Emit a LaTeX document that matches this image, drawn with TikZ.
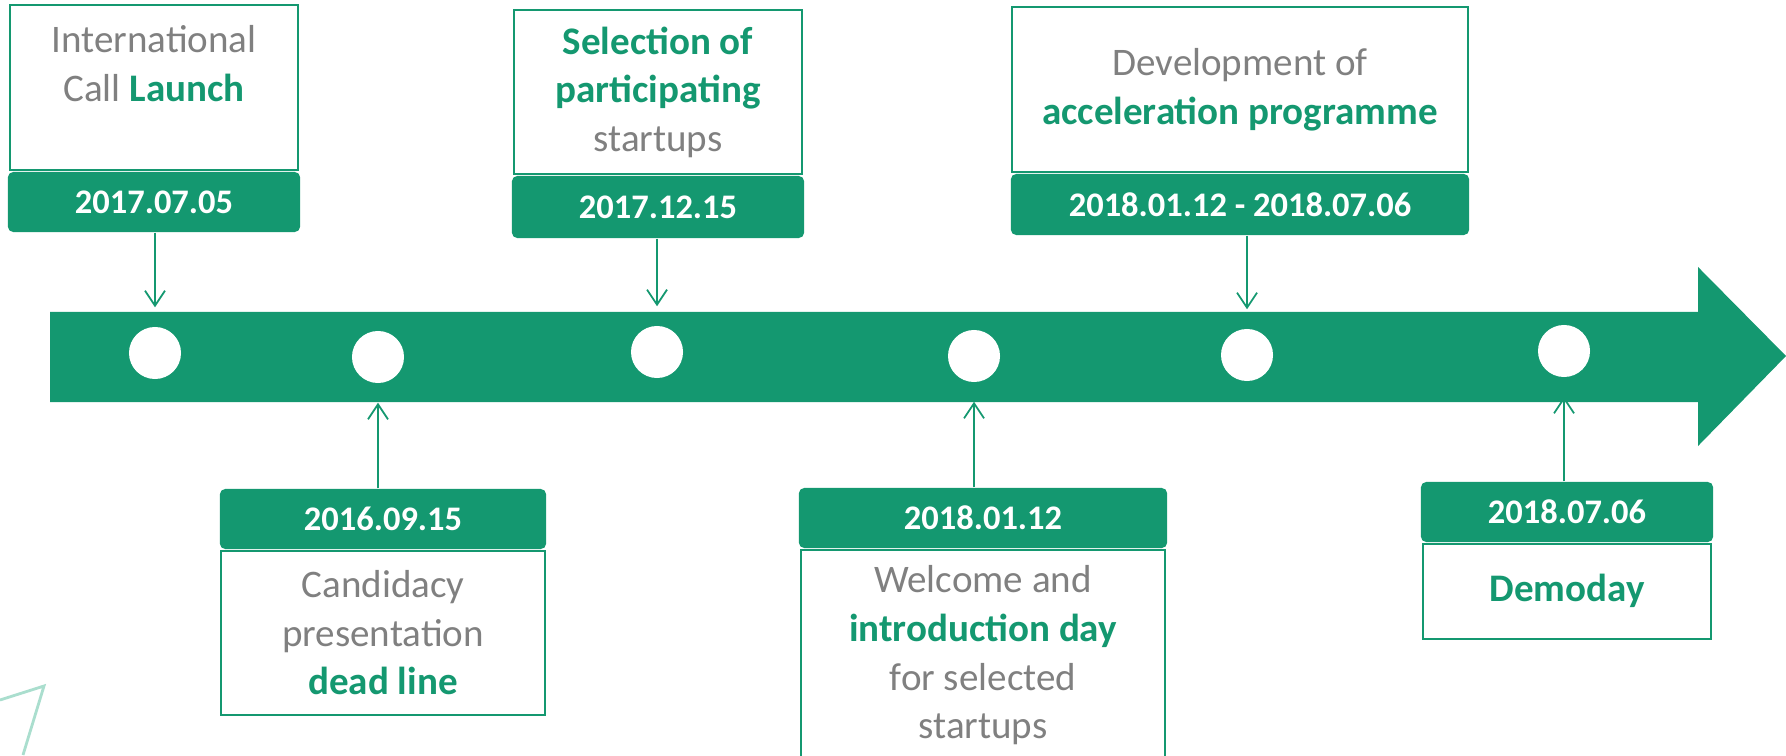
\documentclass[tikz,border=0pt]{standalone}
\usepackage{fontspec}
\setmainfont{Carlito}
\usetikzlibrary{positioning,arrows.meta}
\definecolor{tlgreen}{RGB}{20,152,112}
\definecolor{tlgray}{RGB}{128,128,128}
\definecolor{tldeco}{RGB}{170,222,206}
\newcommand{\hl}[1]{\textbf{\textcolor{tlgreen}{#1}}}
\tikzset{
    datebar/.style = {rectangle, rounded corners=1.5pt, fill=tlgreen, text=white, font=\fontsize{9.8}{12}\selectfont\bfseries, minimum height=0.6cm, inner sep=0pt, text centered},
    infobox/.style = {rectangle, draw=tlgreen, line width=0.6pt, fill=white, text=tlgray, align=center, inner sep=0pt, font=\fontsize{11.1}{13.8}\selectfont},
    milestone/.style = {circle, fill=white, minimum size=0.52cm, inner sep=0pt},
    pointer/.style = {draw=tlgreen, line width=0.5pt, -{Straight Barb[length=0.15cm,width=0.2cm]}, shorten >=0.19cm}
}

\begin{document}
\begin{tikzpicture}[x=0.01cm, y=-0.01cm]
\useasboundingbox (0,0) rectangle (1786,755);

% decoration
\draw[tldeco, line width=0.8pt] (0,700) -- (44,686) -- (23,755);

% timeline axis
\fill[tlgreen] (50,312) -- (1698,312) -- (1698,267) -- (1786,356) -- (1698,446) -- (1698,402) -- (50,402) -- cycle;

% milestones
\node (m1) [milestone] at (155,353) {};
\node (m2) [milestone] at (378,357) {};
\node (m3) [milestone] at (657,352) {};
\node (m4) [milestone] at (974,356) {};
\node (m5) [milestone] at (1247,355) {};
\node (m6) [milestone] at (1564,351) {};

% dates
\node (d1) [datebar, minimum width=2.92cm] at (154,202) {2017.07.05};
\node (d2) [datebar, minimum width=3.26cm] at (383,519) {2016.09.15};
\node (d3) [datebar, minimum width=2.92cm, minimum height=0.62cm] at (658,207) {2017.12.15};
\node (d4) [datebar, minimum width=3.68cm] at (983,518) {2018.01.12};
\node (d5) [datebar, minimum width=4.58cm, minimum height=0.61cm] at (1240,204.5) {2018.01.12 - 2018.07.06};
\node (d6) [datebar, minimum width=2.92cm] at (1567,512) {2018.07.06};

% descriptions
\node (b1) [infobox, above=0pt of d1, minimum width=2.88cm, minimum height=1.65cm] {International\\Call \hl{Launch}\\~};
\node (b2) [infobox, below=0pt of d2, minimum width=3.23cm, minimum height=1.64cm] {Candidacy\\presentation\\\hl{dead line}};
\node (b3) [infobox, above=0pt of d3, minimum width=2.88cm, minimum height=1.64cm] {\hl{Selection of}\\\hl{participating}\\startups};
\node (b4) [infobox, below=0pt of d4, minimum width=3.64cm, minimum height=2.11cm] {Welcome and\\\hl{introduction day}\\for selected\\startups};
\node (b5) [infobox, above=0pt of d5, minimum width=4.56cm, minimum height=1.65cm] {Development of\\\hl{acceleration programme}};
\node (b6) [infobox, below=0pt of d6, minimum width=2.88cm, minimum height=0.95cm] {\hl{Demoday}};

% pointers
\draw [pointer] (m1 |- d1.south) -- (m1.north);
\draw [pointer] (m2 |- d2.north) -- (m2.south);
\draw [pointer] (m3 |- d3.south) -- (m3.north);
\draw [pointer] (m4 |- d4.north) -- (m4.south);
\draw [pointer] (m5 |- d5.south) -- (m5.north);
\draw [pointer] (m6 |- d6.north) -- (m6.south);
\end{tikzpicture}
\end{document}
